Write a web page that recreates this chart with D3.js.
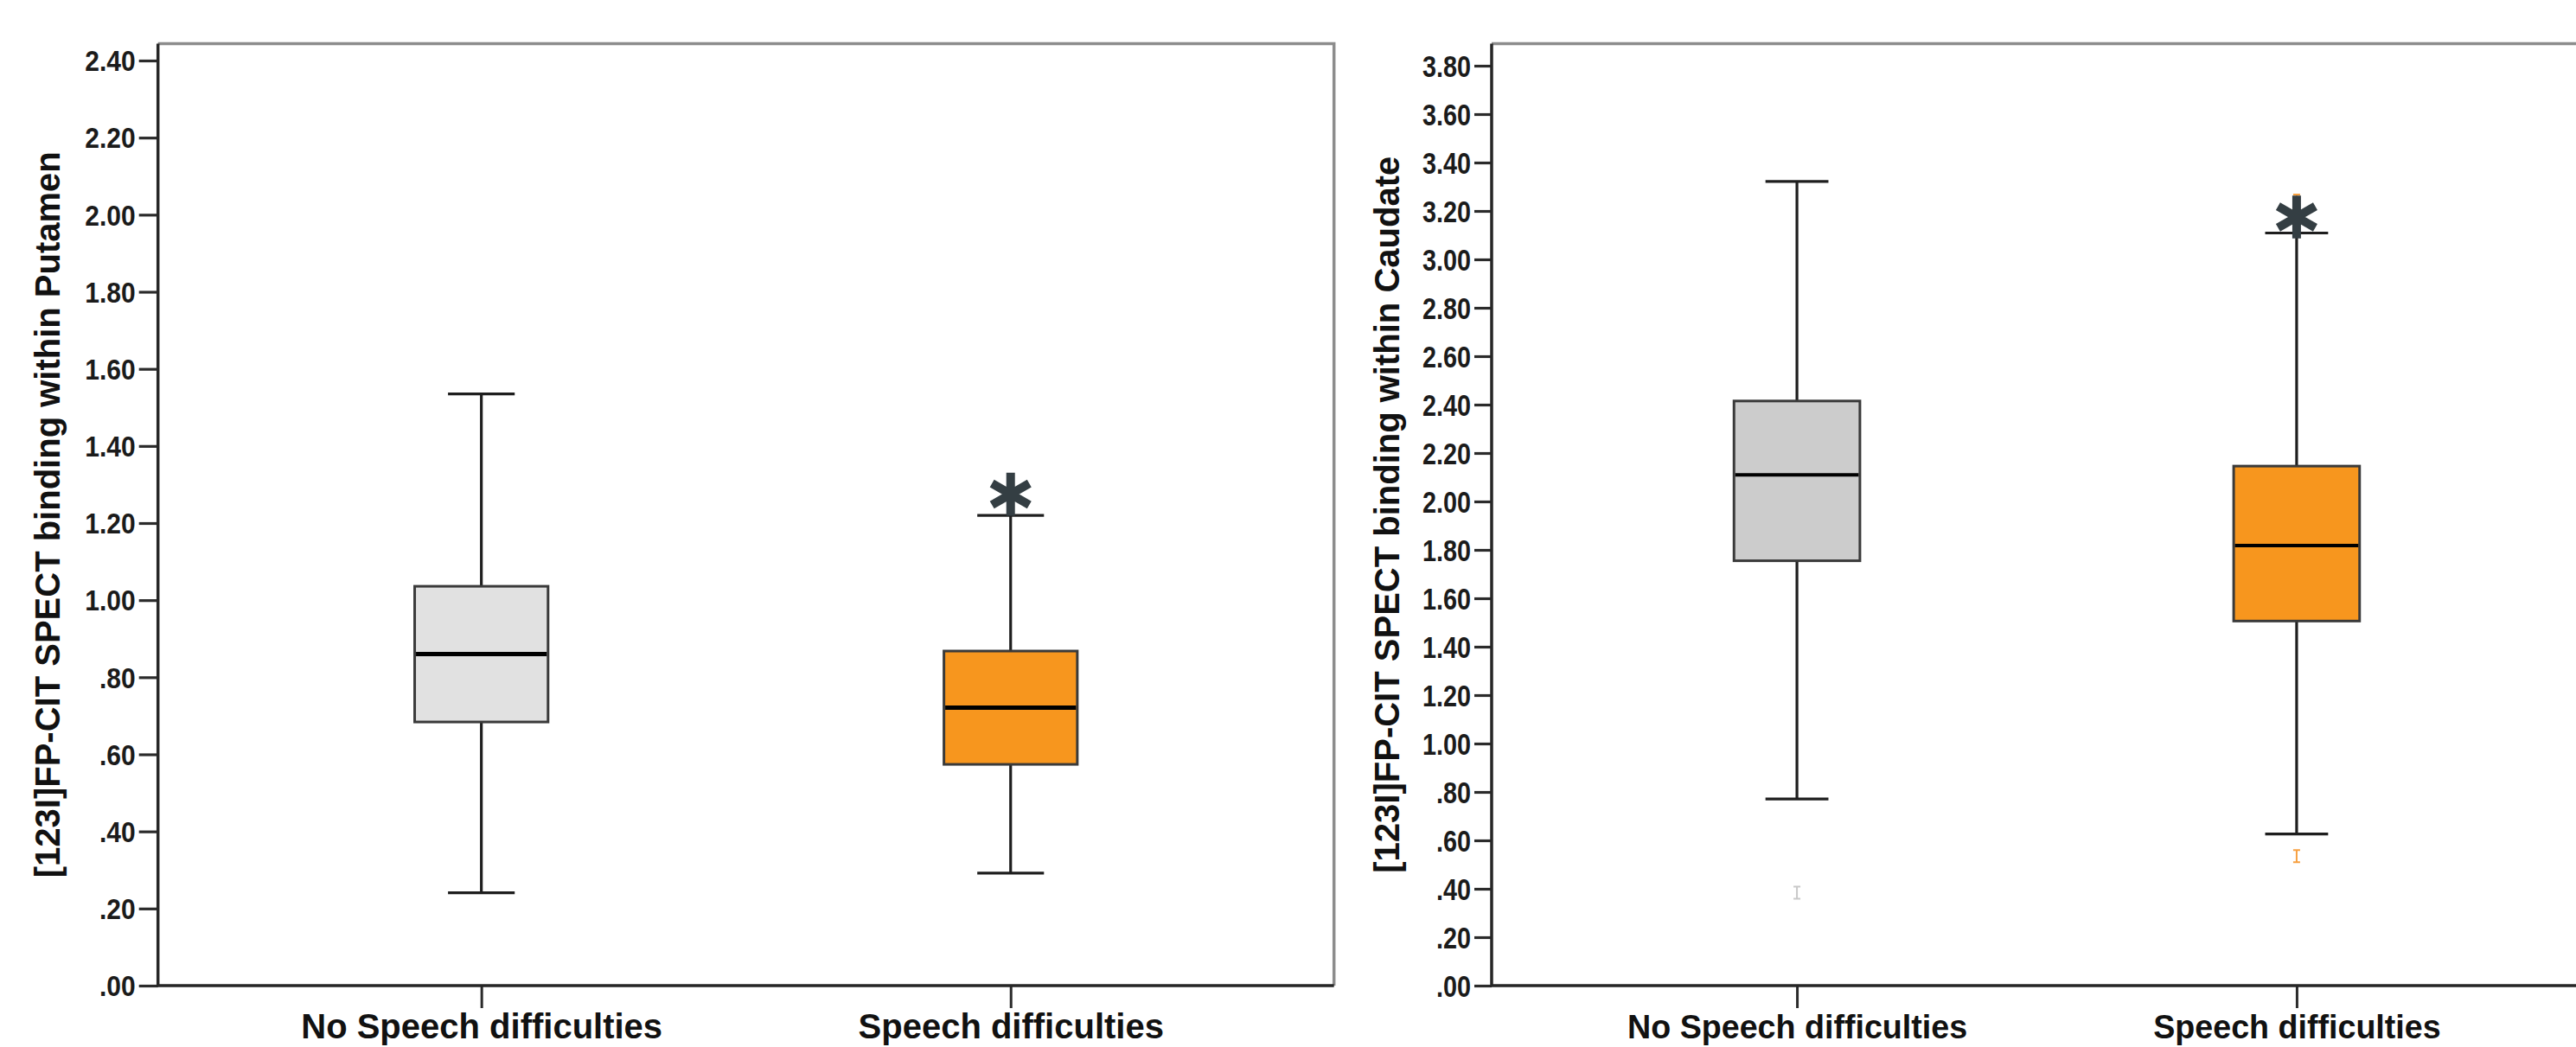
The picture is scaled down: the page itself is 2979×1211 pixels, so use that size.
<!DOCTYPE html>
<html>
<head>
<meta charset="utf-8">
<script src="https://cdn.jsdelivr.net/npm/d3@7"></script>
<style>
  body { margin: 0; background: #fff; }
  svg text { font-family: "Liberation Sans", Arial, sans-serif; font-weight: bold; }
</style>
</head>
<body>
<div id="chart"></div>
<script>
// DATA
const categories = ["No Speech difficulties", "Speech difficulties"];

// Putamen panel
const putamenTicks = [0, 0.2, 0.4, 0.6, 0.8, 1.0, 1.2, 1.4, 1.6, 1.8, 2.0, 2.2, 2.4];
const putamenLow = [0.241, 0.292];
const putamenQ1 = [0.684, 0.574];
const putamenMedian = [0.860, 0.721];
const putamenQ3 = [1.036, 0.868];
const putamenHigh = [1.535, 1.220];
const putamenExtremes = [[], [1.275]];
const putamenOutliers = [[], []];

// Caudate panel
const caudateTicks = [0, 0.2, 0.4, 0.6, 0.8, 1.0, 1.2, 1.4, 1.6, 1.8, 2.0, 2.2, 2.4, 2.6, 2.8, 3.0, 3.2, 3.4, 3.6, 3.8];
const caudateLow = [0.771, 0.626];
const caudateQ1 = [1.755, 1.506];
const caudateMedian = [2.110, 1.818];
const caudateQ3 = [2.415, 2.146];
const caudateHigh = [3.322, 3.109];
const caudateExtremes = [[], [3.175]];
const caudateOutliers = [[0.384], [0.535, 3.243]];

const width = 2979;
const height = 1211;
const frameTop = 50.5;
const axisY = 1140;

const svg = d3.select("#chart")
    .append("svg")
    .attr("width", width)
    .attr("height", height)
    .style("display", "block")
    .style("background", "#fff");

// .80 style labels (no leading zero)
const fmt = v => d3.format(".2f")(v).replace(/^0\./, ".");

function drawPanel(p) {
    const g = svg.append("g");

    const y = d3.scaleLinear()
        .domain([0, d3.max(p.ticks)])
        .range([axisY, p.topTickY]);

    const x = d3.scalePoint()
        .domain(categories)
        .range([p.left, p.right])
        .padding(0.611);

    const boxW = x.step() * 0.252;
    const capW = boxW / 2;

    // frame (top + right in grey)
    g.append("path")
        .attr("d", `M${p.left},${frameTop}H${p.right}V${axisY}`)
        .attr("fill", "none")
        .attr("stroke", "#8c8c8c")
        .attr("stroke-width", 3.5);

    // y axis
    const yAxis = d3.axisLeft(y)
        .tickValues(p.ticks)
        .tickFormat(fmt)
        .tickSize(p.tickLen)
        .tickPadding(4);

    const ya = g.append("g")
        .attr("transform", `translate(${p.left},0)`)
        .attr("font-family", null)
        .call(yAxis);
    ya.select(".domain").remove();
    ya.selectAll(".tick line").attr("stroke", "#2b2b2b").attr("stroke-width", 3.2);
    ya.selectAll(".tick text")
        .attr("font-size", p.tickFont)
        .attr("fill", "#1b1b1b")
        .attr("x", -(p.tickLen + 4) / p.tickSx)
        .attr("dy", "0.36em")
        .attr("transform", `scale(${p.tickSx},1.08)`);

    // x axis
    const xAxis = d3.axisBottom(x).tickSize(26).tickPadding(7);
    const xa = g.append("g")
        .attr("transform", `translate(0,${axisY})`)
        .attr("font-family", null)
        .call(xAxis);
    xa.select(".domain").remove();
    xa.selectAll(".tick line").attr("stroke", "#2b2b2b").attr("stroke-width", 3);
    xa.selectAll(".tick text")
        .attr("font-size", p.xFont)
        .attr("fill", "#111")
        .attr("transform", `scale(${p.xSx},1)`);

    // axis lines (left + bottom, dark)
    g.append("path")
        .attr("d", `M${p.left},${frameTop}V${axisY}H${p.right}`)
        .attr("fill", "none")
        .attr("stroke", "#262626")
        .attr("stroke-width", 3.5);

    // y title
    g.append("text")
        .attr("transform", `translate(${p.titleX},${(frameTop + axisY) / 2}) rotate(-90)`)
        .attr("text-anchor", "middle")
        .attr("font-size", 40)
        .attr("fill", "#111")
        .text(p.title);

    // boxes
    const rows = categories.map((c, i) => ({
        cat: c, i: i,
        low: p.low[i], q1: p.q1[i], med: p.med[i], q3: p.q3[i], high: p.high[i]
    }));

    const box = g.selectAll(".box")
        .data(rows)
        .enter()
        .append("g")
        .attr("class", "box");

    box.append("line")
        .attr("x1", d => x(d.cat)).attr("x2", d => x(d.cat))
        .attr("y1", d => y(d.low)).attr("y2", d => y(d.high))
        .attr("stroke", "#1e1e1e").attr("stroke-width", 3.2);

    box.selectAll(".cap")
        .data(d => [d.low, d.high].map(v => ({ cat: d.cat, v: v })))
        .enter()
        .append("line")
        .attr("x1", d => x(d.cat) - capW / 2).attr("x2", d => x(d.cat) + capW / 2)
        .attr("y1", d => y(d.v)).attr("y2", d => y(d.v))
        .attr("stroke", "#1e1e1e").attr("stroke-width", 3.2);

    box.append("rect")
        .attr("x", d => x(d.cat) - boxW / 2)
        .attr("width", boxW)
        .attr("y", d => y(d.q3))
        .attr("height", d => y(d.q1) - y(d.q3))
        .attr("fill", d => p.fills[d.i])
        .attr("stroke", "#3a3a3a")
        .attr("stroke-width", 3);

    box.append("line")
        .attr("x1", d => x(d.cat) - boxW / 2 + 1.5).attr("x2", d => x(d.cat) + boxW / 2 - 1.5)
        .attr("y1", d => y(d.med)).attr("y2", d => y(d.med))
        .attr("stroke", "#000").attr("stroke-width", p.medW);

    // small outlier markers
    const outs = [];
    p.outliers.forEach((arr, i) => arr.forEach(v => outs.push({ cat: categories[i], i: i, v: v })));
    g.selectAll(".out")
        .data(outs)
        .enter()
        .append("path")
        .attr("d", d => {
            const cx = x(d.cat), cy = y(d.v);
            return `M${cx},${cy - 7}V${cy + 7}M${cx - 4},${cy - 7}H${cx + 4}M${cx - 4},${cy + 7}H${cx + 4}`;
        })
        .attr("fill", "none")
        .attr("stroke", d => d.i === 0 ? "#c9c9c9" : "#f7a040")
        .attr("stroke-width", 2);

    // extreme values (asterisk)
    const ext = [];
    p.extremes.forEach((arr, i) => arr.forEach(v => ext.push({ cat: categories[i], v: v })));
    const star = d3.symbol().type(d3.symbolAsterisk || d3.symbolCross).size(1750);
    g.selectAll(".ext")
        .data(ext)
        .enter()
        .append("path")
        .attr("transform", d => `translate(${x(d.cat)},${y(d.v)})`)
        .attr("d", star)
        .attr("fill", "none")
        .attr("stroke", "#343e43")
        .attr("stroke-width", 10);
}

drawPanel({
    left: 182.7, right: 1542.7, topTickY: 70,
    ticks: putamenTicks,
    low: putamenLow, q1: putamenQ1, med: putamenMedian, q3: putamenQ3, high: putamenHigh,
    extremes: putamenExtremes, outliers: putamenOutliers,
    fills: ["#e1e1e1", "#f7961e"],
    tickLen: 22, tickFont: 30, tickSx: 1, xFont: 40, xSx: 1, medW: 5,
    titleX: 69,
    title: "[123I]FP-CIT SPECT binding within Putamen"
});

drawPanel({
    left: 1725, right: 3009, topTickY: 76,
    ticks: caudateTicks,
    low: caudateLow, q1: caudateQ1, med: caudateMedian, q3: caudateQ3, high: caudateHigh,
    extremes: caudateExtremes, outliers: caudateOutliers,
    fills: ["#cccccc", "#f7961e"],
    tickLen: 20, tickFont: 32, tickSx: 0.9, xFont: 39, xSx: 0.965, medW: 4,
    titleX: 1618,
    title: "[123I]FP-CIT SPECT binding within Caudate"
});
</script>
</body>
</html>
